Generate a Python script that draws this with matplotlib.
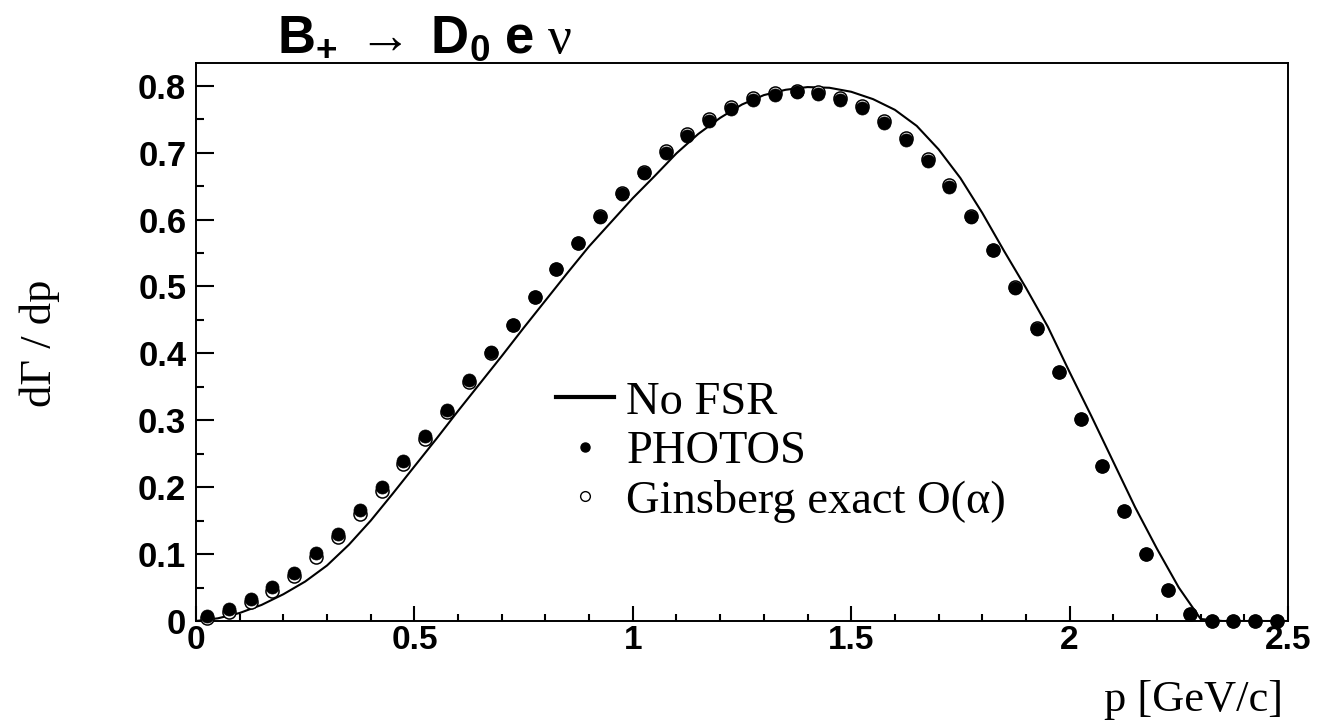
import numpy as np
import matplotlib
matplotlib.use("Agg")
import matplotlib.pyplot as plt
from matplotlib.lines import Line2D
from matplotlib.ticker import MultipleLocator

# histogram bin centres (50 bins of 0.05 GeV/c)
p_bins = np.arange(0.025, 2.5, 0.05)

photos = [0.008, 0.018, 0.033, 0.051, 0.072, 0.101, 0.130, 0.166, 0.200, 0.239,
          0.276, 0.316, 0.360, 0.402, 0.443, 0.485, 0.526, 0.565, 0.604, 0.638,
          0.669, 0.700, 0.725, 0.748, 0.765, 0.778, 0.786, 0.790, 0.787, 0.779,
          0.767, 0.745, 0.719, 0.688, 0.649, 0.604, 0.554, 0.498, 0.437, 0.372,
          0.302, 0.232, 0.164, 0.100, 0.046, 0.010, 0.0, 0.0, 0.0, 0.0]

ginsberg = [0.004, 0.013, 0.028, 0.045, 0.067, 0.096, 0.125, 0.160, 0.195, 0.234,
            0.272, 0.313, 0.357, 0.400, 0.442, 0.485, 0.526, 0.565, 0.605, 0.640,
            0.671, 0.703, 0.728, 0.751, 0.768, 0.781, 0.789, 0.792, 0.790, 0.782,
            0.770, 0.748, 0.722, 0.691, 0.651, 0.605, 0.555, 0.499, 0.438, 0.372,
            0.302, 0.232, 0.164, 0.100, 0.046, 0.010, 0.0, 0.0, 0.0, 0.0]

# no-FSR curve, read every 0.05 GeV/c
p_curve = np.arange(0.0, 2.501, 0.05)
nofsr = [0.000, 0.004, 0.012, 0.024, 0.040, 0.059, 0.083, 0.114, 0.150, 0.190,
         0.231, 0.272, 0.314, 0.355, 0.396, 0.438, 0.479, 0.520, 0.560, 0.596,
         0.632, 0.665, 0.699, 0.728, 0.752, 0.772, 0.786, 0.794, 0.798, 0.797,
         0.791, 0.780, 0.764, 0.740, 0.705, 0.662, 0.610, 0.553, 0.498, 0.440,
         0.372, 0.306, 0.238, 0.170, 0.108, 0.050, 0.003, 0.000, 0.000, 0.000,
         0.000]

W, H = 1319, 726
fig = plt.figure(figsize=(W / 100, H / 100), dpi=100)
ax = fig.add_axes([196 / W, 1 - 621 / H, (1288 - 196) / W, (621 - 63) / H])

ax.plot(p_curve, nofsr, color="k", lw=1.5, zorder=2)
ax.plot(p_bins, ginsberg, ls="none", marker="o", ms=9.4, mfc="white", mec="k",
        mew=1.1, zorder=3, clip_on=False)
ax.plot(p_bins, photos, ls="none", marker="o", ms=9.4, mfc="k", mec="k",
        mew=0.5, zorder=4, clip_on=False)

ax.set_xlim(0, 2.5)
ax.set_ylim(0, 0.834)
ax.xaxis.set_major_locator(MultipleLocator(0.5))
ax.xaxis.set_minor_locator(MultipleLocator(0.1))
ax.yaxis.set_major_locator(MultipleLocator(0.1))
ax.yaxis.set_minor_locator(MultipleLocator(0.05))
ax.tick_params(which="both", direction="in", top=False, right=False, width=1.5)
ax.tick_params(axis="y", which="major", length=13, pad=7)
ax.tick_params(axis="y", which="minor", length=6)
ax.tick_params(axis="x", which="major", length=11, pad=3)
ax.tick_params(axis="x", which="minor", length=5)
for s in ax.spines.values():
    s.set_linewidth(1.4)

def fmt(v, pos):
    return "0" if abs(v) < 1e-9 else ("%g" % v)

ax.xaxis.set_major_formatter(plt.FuncFormatter(fmt))
ax.yaxis.set_major_formatter(plt.FuncFormatter(fmt))
for lab in ax.get_xticklabels():
    lab.set_fontfamily("Liberation Sans")
    lab.set_fontweight("bold")
    lab.set_fontsize(24)
for lab in ax.get_yticklabels():
    lab.set_fontfamily("Liberation Sans")
    lab.set_fontweight("bold")
    lab.set_fontsize(25)

fig.text(40 / W, 1 - 343 / H, "d\u0393 / dp", rotation=90, ha="center",
         va="center", fontsize=32, family="Liberation Serif")
fig.text(1283 / W, 1 - 700 / H, "p [GeV/c]", ha="right", va="center",
         fontsize=32, family="Liberation Serif")

plt.rcParams["mathtext.fontset"] = "custom"
plt.rcParams["mathtext.bf"] = "Liberation Sans:bold"
plt.rcParams["mathtext.rm"] = "Liberation Serif"
plt.rcParams["mathtext.it"] = "Liberation Serif"
fig.text(425 / W, 1 - 53 / H,
         r"$\mathbf{B_{+}}\;\rightarrow\;\mathbf{D_{0}}\ \mathbf{e}\ \mathrm{\nu}$",
         ha="center", va="baseline", fontsize=38)

handles = [
    Line2D([], [], color="k", lw=3),
    Line2D([], [], ls="none", marker="o", ms=6.5, mfc="k", mec="k"),
    Line2D([], [], ls="none", marker="o", ms=7, mfc="white", mec="k", mew=1),
]
labels = ["No FSR", "PHOTOS", "Ginsberg exact O(\u03b1)"]
leg = ax.legend(handles, labels, loc="upper left",
                bbox_to_anchor=((556 - 196) / (1288 - 196), (621 - 381) / (621 - 63)),
                frameon=False, borderpad=0, borderaxespad=0, handlelength=1.25,
                handletextpad=0.26, labelspacing=0.145,
                prop={"family": "Liberation Serif", "size": 33.5})

fig.savefig("out.png", dpi=100)
